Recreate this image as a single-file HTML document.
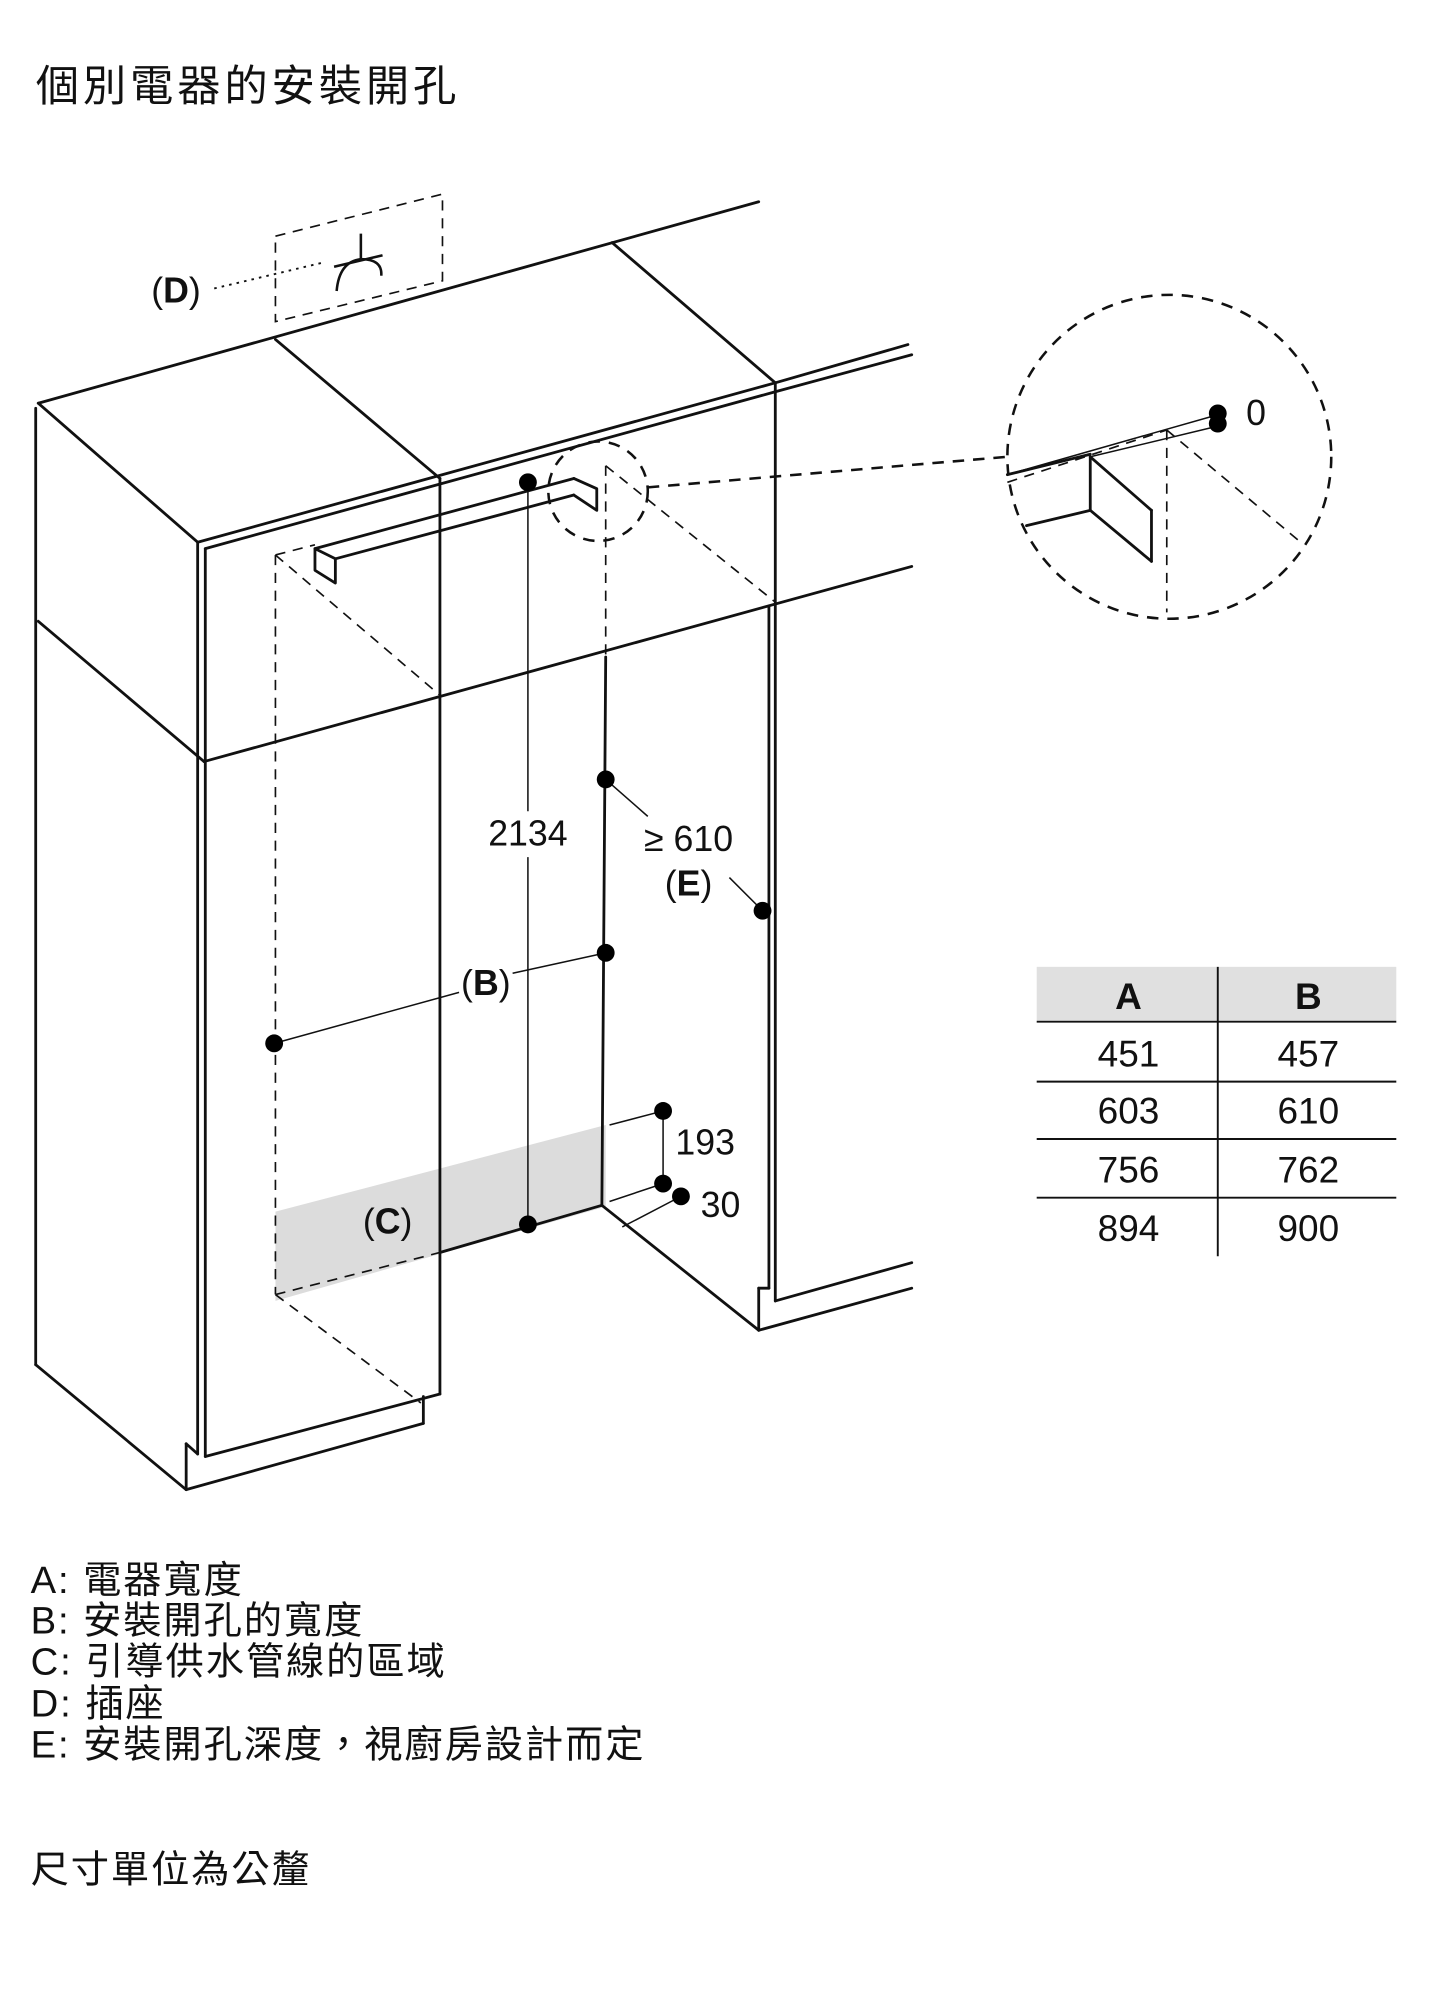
<!DOCTYPE html>
<html><head><meta charset="utf-8"><style>
html,body{margin:0;padding:0;background:#fff;}
svg{display:block;}
text{font-family:"Liberation Sans","Noto Sans CJK TC",sans-serif;fill:#111;}
</style></head><body>
<svg width="1432" height="2000" viewBox="0 0 1123 1568" xmlns="http://www.w3.org/2000/svg">
<text x="28" y="79" font-size="34" letter-spacing="3">個別電器的安裝開孔</text>

<!-- grey zone C -->
<polygon points="216,950 475,882 475,946 216,1020" fill="#dcdcdc"/>

<g stroke="#111" fill="none" stroke-width="2.2" stroke-linecap="round" stroke-linejoin="round">
<line x1="30" y1="316" x2="595" y2="158"/>
<line x1="30" y1="316" x2="155" y2="425"/>
<line x1="216" y1="266" x2="345" y2="375"/>
<line x1="480" y1="190" x2="608" y2="300"/>
<line x1="155" y1="425" x2="608" y2="300"/>
<line x1="161" y1="430" x2="608" y2="307"/>
<line x1="608" y1="300" x2="712" y2="270"/>
<line x1="608" y1="307" x2="715" y2="278"/>
<line x1="30" y1="487" x2="160" y2="597"/>
<line x1="160" y1="597" x2="715" y2="444"/>
<line x1="28" y1="320" x2="28" y2="1070"/>
<line x1="155" y1="425" x2="155" y2="1140"/>
<line x1="161" y1="430" x2="161" y2="1142"/>
<line x1="345" y1="375" x2="345" y2="1093"/>
<line x1="28" y1="1070" x2="146" y2="1168"/>
<line x1="146" y1="1132" x2="146" y2="1168"/>
<line x1="146" y1="1132" x2="155" y2="1140"/>
<line x1="146" y1="1168" x2="332" y2="1116"/>
<line x1="332" y1="1095" x2="332" y2="1116"/>
<line x1="161" y1="1142" x2="345" y2="1093"/>
<line x1="603" y1="475" x2="603" y2="1010"/>
<line x1="608" y1="300" x2="608" y2="1020"/>
<line x1="475" y1="515" x2="472" y2="945"/>
<line x1="472" y1="945" x2="595" y2="1043"/>
<line x1="595" y1="1010" x2="595" y2="1043"/>
<line x1="595" y1="1010" x2="603" y2="1010"/>
<line x1="595" y1="1043" x2="715" y2="1010"/>
<line x1="608" y1="1020" x2="715" y2="990"/>
<line x1="345" y1="982" x2="472" y2="945"/>
<line x1="247" y1="430" x2="450" y2="375"/>
<line x1="263" y1="438" x2="450" y2="388"/>
<polyline points="247,430 247,447 263,457 263,438 247,430"/>
<polyline points="450,375 468,383 468,400 450,388"/>
<line x1="790" y1="372" x2="855" y2="356"/>
<line x1="855" y1="358" x2="855" y2="400"/>
<line x1="805" y1="412" x2="855" y2="400"/>
<line x1="855" y1="358" x2="903" y2="400"/>
<line x1="903" y1="400" x2="903" y2="440"/>
<line x1="855" y1="400" x2="903" y2="440"/>
</g>

<g stroke="#111" fill="none" stroke-width="1.3" stroke-dasharray="8,6">
<line x1="216" y1="435" x2="216" y2="1015"/>
<line x1="216" y1="435" x2="247" y2="427"/>
<line x1="216" y1="435" x2="345" y2="545"/>
<line x1="216" y1="1015" x2="345" y2="982"/>
<line x1="216" y1="1015" x2="330" y2="1100"/>
<line x1="475" y1="365" x2="475" y2="515"/>
<line x1="475" y1="365" x2="608" y2="472"/>
<polygon points="216,185 347,152 347,220 216,252"/>
<line x1="915" y1="337" x2="915" y2="480"/>
<line x1="915" y1="337" x2="1020" y2="425"/>
<line x1="790" y1="378" x2="915" y2="337"/>
</g>
<g stroke="#111" fill="none" stroke-width="2" stroke-dasharray="9,7">
<circle cx="469" cy="385" r="39"/>
<circle cx="917" cy="358" r="127"/>
<line x1="508" y1="382" x2="790" y2="358"/>
</g>
<line x1="168" y1="226" x2="252" y2="206" stroke="#111" stroke-width="1.5" stroke-dasharray="2,4"/>
<g stroke="#111" fill="none" stroke-width="2">
<line x1="283" y1="183" x2="283" y2="203"/>
<line x1="262" y1="209" x2="300" y2="200"/>
<path d="M264,228 Q266,205 283,203 Q300,203 299,216"/>
</g>

<g stroke="#111" stroke-width="1.2" fill="none">
<line x1="414" y1="378" x2="414" y2="636"/>
<line x1="414" y1="672" x2="414" y2="960"/>
<line x1="475" y1="611" x2="508" y2="640"/>
<line x1="572" y1="688" x2="598" y2="714"/>
<line x1="215" y1="818" x2="360" y2="778"/>
<line x1="402" y1="763" x2="475" y2="747"/>
<line x1="520" y1="871" x2="520" y2="928"/>
<line x1="478" y1="882" x2="520" y2="871"/>
<line x1="478" y1="942" x2="520" y2="928"/>
<line x1="488" y1="962" x2="534" y2="938"/>
<line x1="790" y1="372" x2="955" y2="325"/>
<line x1="855" y1="358" x2="955" y2="334"/>
</g>
<g fill="#000">
<circle cx="414" cy="378" r="7"/><circle cx="414" cy="960" r="7"/>
<circle cx="475" cy="611" r="7"/><circle cx="475" cy="747" r="7"/>
<circle cx="598" cy="714" r="7"/><circle cx="215" cy="818" r="7"/>
<circle cx="520" cy="871" r="7"/><circle cx="520" cy="928" r="7"/>
<circle cx="534" cy="938" r="7"/>
<circle cx="955" cy="324" r="7"/><circle cx="955" cy="332" r="7"/>
</g>

<g font-size="28">
<text x="414" y="663" text-anchor="middle">2134</text>
<text x="540" y="667" text-anchor="middle">≥ 610</text>
<text x="540" y="702" text-anchor="middle">(<tspan font-weight="bold">E</tspan>)</text>
<text x="381" y="780" text-anchor="middle">(<tspan font-weight="bold">B</tspan>)</text>
<text x="304" y="967" text-anchor="middle">(<tspan font-weight="bold">C</tspan>)</text>
<text x="138" y="237" text-anchor="middle">(<tspan font-weight="bold">D</tspan>)</text>
<text x="553" y="905" text-anchor="middle">193</text>
<text x="565" y="954" text-anchor="middle">30</text>
<text x="985" y="333" text-anchor="middle">0</text>
</g>

<rect x="813" y="758" width="282" height="42" fill="#e0e0e0"/>
<g stroke="#111" stroke-width="1.5">
<line x1="955" y1="758" x2="955" y2="985"/>
<line x1="813" y1="801" x2="1095" y2="801"/>
<line x1="813" y1="848" x2="1095" y2="848"/>
<line x1="813" y1="893" x2="1095" y2="893"/>
<line x1="813" y1="939" x2="1095" y2="939"/>
</g>
<g font-size="29" text-anchor="middle">
<text x="885" y="791" font-weight="bold">A</text><text x="1026" y="791" font-weight="bold">B</text>
<text x="885" y="836">451</text><text x="1026" y="836">457</text>
<text x="885" y="881">603</text><text x="1026" y="881">610</text>
<text x="885" y="927">756</text><text x="1026" y="927">762</text>
<text x="885" y="973">894</text><text x="1026" y="973">900</text>
</g>

<g font-size="30" letter-spacing="1.5">
<text x="24" y="1249">A: 電器寬度</text>
<text x="24" y="1281">B: 安裝開孔的寬度</text>
<text x="24" y="1313">C: 引導供水管線的區域</text>
<text x="24" y="1346">D: 插座</text>
<text x="24" y="1378">E: 安裝開孔深度，視廚房設計而定</text>
<text x="24" y="1476">尺寸單位為公釐</text>
</g>
</svg>
</body></html>
